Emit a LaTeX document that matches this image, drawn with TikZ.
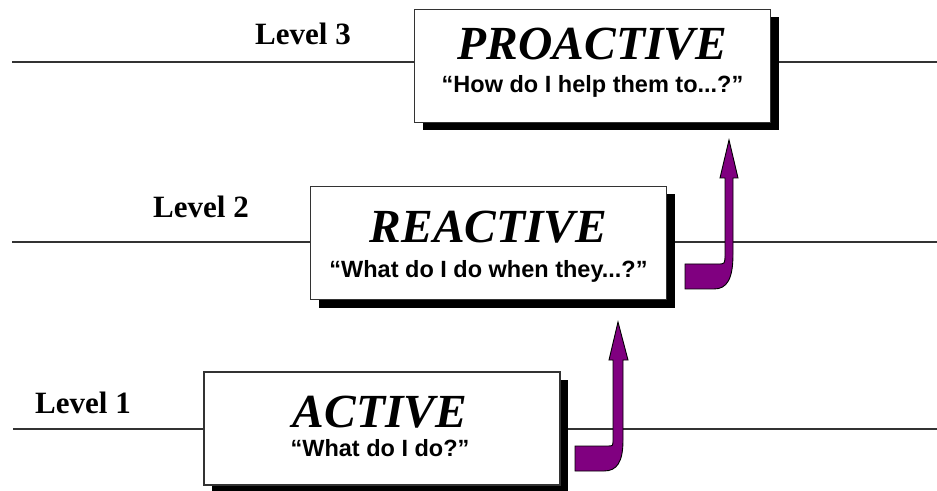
\documentclass[tikz,border=0pt]{standalone}
\usepackage{fontspec}
\setmainfont{Liberation Serif}
\setsansfont{Liberation Sans}
\usetikzlibrary{shadows,backgrounds}
\definecolor{arrowpurple}{HTML}{800080}
\tikzset{
  levelline/.style={draw=black!80, line width=1.2bp},
  levelbox/.style={draw=black!80, line width=1.2bp, fill=white, inner sep=0pt,
    minimum width=356bp, minimum height=113bp,
    drop shadow={shadow xshift=8bp, shadow yshift=-8bp, fill=black, opacity=1}},
  titletext/.style={anchor=base, inner sep=0pt, font=\fontsize{47.5bp}{50bp}\selectfont\bfseries\itshape},
  subtext/.style={anchor=base, inner sep=0pt, font=\fontsize{23.5bp}{26bp}\selectfont\sffamily\bfseries},
  leveltext/.style={anchor=base west, inner sep=0pt, font=\fontsize{31bp}{33bp}\selectfont\bfseries},
  uparrow/.style={fill=arrowpurple, draw=black, line width=0.9bp, line join=miter}
}
\begin{document}
\begin{tikzpicture}[x=1bp, y=-1bp]
\useasboundingbox (0,0) rectangle (937,491);
% boxes
\node[levelbox] (b3) at (592.5,66) {};
\node[levelbox] (b2) at (488.5,243) {};
\node[levelbox] (b1) at (382,428.5) {};
% ends of level lines
\coordinate (l3a) at (12,62);
\coordinate (l3b) at (937,62);
\coordinate (l2a) at (12,242);
\coordinate (l2b) at (937,242);
\coordinate (l1a) at (13,429);
\coordinate (l1b) at (937,429);
\begin{pgfonlayer}{background}
\draw[levelline] (l3a) -- (l3a -| b3.west);
\draw[levelline] (l3b) -- (l3b -| b3.east);
\draw[levelline] (l2a) -- (l2a -| b2.west);
\draw[levelline] (l2b) -- (l2b -| b2.east);
\draw[levelline] (l1a) -- (l1a -| b1.west);
\draw[levelline] (l1b) -- (l1b -| b1.east);
\end{pgfonlayer}
% arrows
\draw[uparrow] (575,446) -- (608,446) .. controls (613,446) .. (613,439)
  -- (613,360) -- (609,360) -- (618,322) -- (628,360) -- (623,360)
  -- (623,440) .. controls (623,462) and (617,471) .. (604,471) -- (575,471) -- cycle;
\draw[uparrow] (685,264) -- (718,264) .. controls (725,264) .. (725,254)
  -- (725,178) -- (720,178) -- (729,140) -- (738,178) -- (733,178)
  -- (733,254) .. controls (733,279) and (727,289) .. (714,289) -- (685,289) -- cycle;
% texts
\node[titletext] (t3) at (592.5,60) {PROACTIVE};
\node[subtext] (s3) at (592.5,93) {“How do I help them to...?”};
\node[titletext] (t2) at (488.5,243) {REACTIVE};
\node[subtext] (s2) at (488.5,278) {“What do I do when they...?”};
\node[titletext] (t1) at (380,427) {ACTIVE};
\node[subtext] (s1) at (380,456) {“What do I do?”};
% level labels
\node[leveltext] (lv3) at (255,45) {Level 3};
\node[leveltext] (lv2) at (153,218) {Level 2};
\node[leveltext] (lv1) at (35,413) {Level 1};
\end{tikzpicture}
\end{document}
